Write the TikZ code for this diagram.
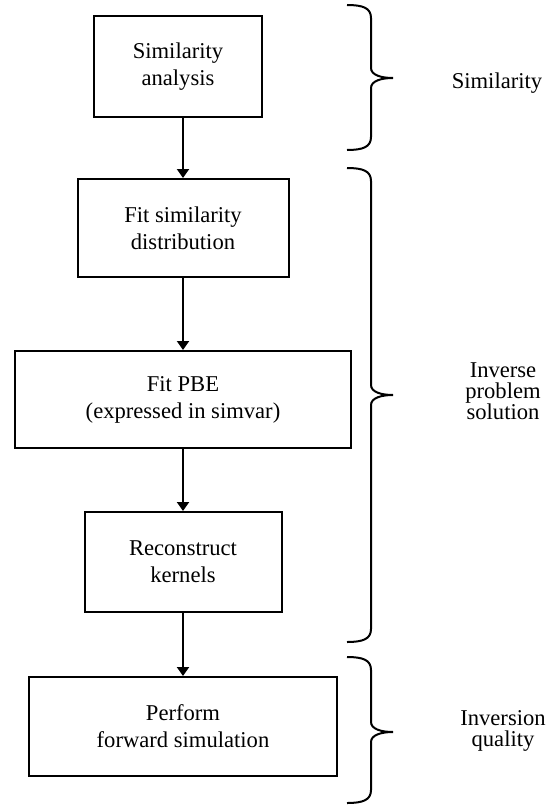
\documentclass[tikz,border=0pt]{standalone}
\usepackage{fontspec}
\setmainfont{Liberation Serif}
\usetikzlibrary{arrows.meta}

\newcommand{\boxfont}{\fontsize{11.3}{13.5}\selectfont}
\newcommand{\sidefont}{\fontsize{11.3}{10.5}\selectfont}
% curly brace on the right: top, tip, bottom
\newcommand{\sidebrace}[3]{%
  \draw[line width=1pt] (347,#1) .. controls (363,#1) and (371,#1+3) .. (371,#1+13)
    -- (371,#2-10) .. controls (371,#2-3) and (381,#2) .. (393,#2)
    .. controls (381,#2) and (371,#2+3) .. (371,#2+10)
    -- (371,#3-13) .. controls (371,#3-3) and (363,#3) .. (347,#3);}

\begin{document}
\begin{tikzpicture}[x=0.5pt, y=-0.5pt,
  every node/.style={align=center},
  stage/.style={draw, line width=1pt, font=\boxfont, inner sep=0pt},
  flow/.style={-{Triangle[width=6pt,length=4.5pt]}, line width=1pt},
  note/.style={font=\sidefont}]
  \useasboundingbox (0,0) rectangle (552,808);

  \node[stage, minimum width=84pt, minimum height=50.5pt] (sim) at (178,66.5) {Similarity\\analysis};
  \node[stage, minimum width=105.5pt, minimum height=49pt] (fitdist) at (183,228) {Fit similarity\\distribution};
  \node[stage, minimum width=168pt, minimum height=48.5pt] (fitpbe) at (183,399.5) {Fit PBE\\(expressed in simvar)};
  \node[stage, minimum width=98.5pt, minimum height=50pt] (kern) at (183,562) {Reconstruct\\kernels};
  \node[stage, minimum width=154pt, minimum height=49.5pt] (fwd) at (183,726.5) {Perform\\forward simulation};

  \draw[flow] (sim.south -| fitdist.north) -- (fitdist.north);
  \draw[flow] (fitdist) -- (fitpbe);
  \draw[flow] (fitpbe) -- (kern);
  \draw[flow] (kern) -- (fwd);

  \sidebrace{5}{78}{150}
  \sidebrace{168}{395}{642}
  \sidebrace{657}{732}{803}

  \node[note] (simlbl) at (497,83) {Similarity};
  \node[note] (invlbl) at (503,391) {Inverse\\problem\\solution};
  \node[note] (quallbl) at (503,731) {Inversion\\quality};
\end{tikzpicture}
\end{document}
